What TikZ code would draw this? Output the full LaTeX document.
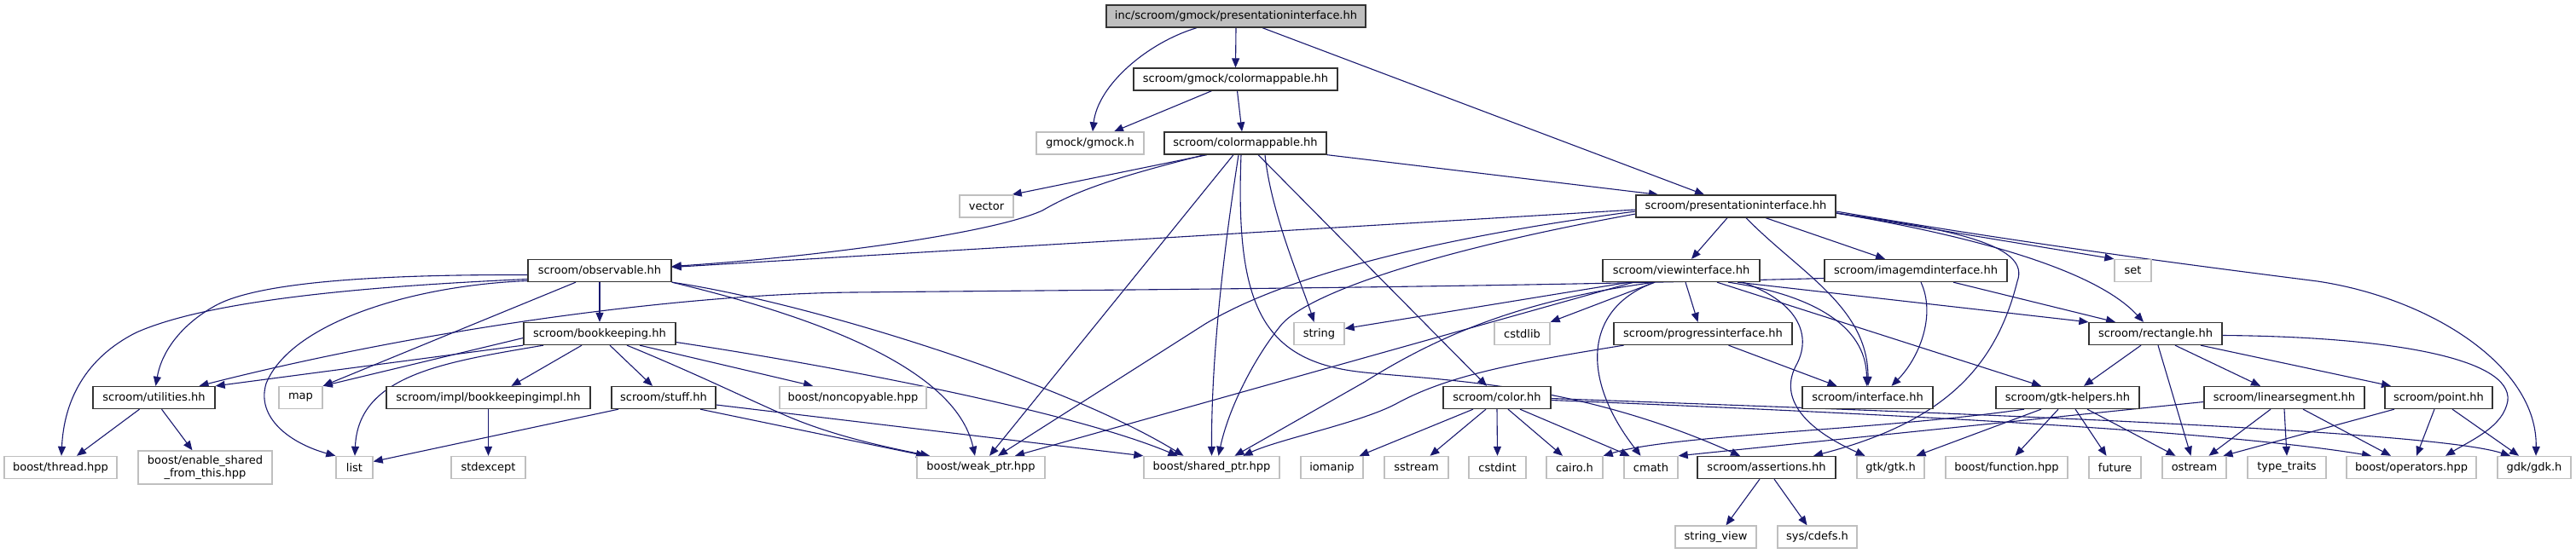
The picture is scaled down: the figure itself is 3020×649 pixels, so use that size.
\documentclass[tikz,border=0pt]{standalone}
\usepackage{fontspec}
\setmainfont{DejaVu Sans}
\usetikzlibrary{arrows.meta}
\definecolor{edgec}{HTML}{191970}
\definecolor{extc}{HTML}{BFBFBF}
\definecolor{docc}{HTML}{333333}
\pgfdeclarelayer{bg}
\pgfdeclarelayer{edges}
\pgfsetlayers{bg,edges,main}
\tikzset{
  base/.style={inner sep=0pt, minimum height=26pt, font=\fontsize{13}{15}\selectfont, anchor=center, fill=white},
  doc/.style={base, draw=docc, line width=1.3pt},
  ext/.style={base, draw=extc, line width=1.4pt},
  rootnode/.style={doc, fill=extc},
  e/.style={draw=edgec, line width=1.1pt, -{Triangle[length=11pt,width=9pt]}},
}
\begin{document}
\begin{tikzpicture}[x=1pt,y=-1pt]
\begin{pgfonlayer}{bg}
\fill[white] (0,0) rectangle (3020,649);
\end{pgfonlayer}
\useasboundingbox (0,0) rectangle (3020,649);
% row 0-3
\node[rootnode, minimum width=304pt] (root) at (1449,19) {inc/scroom/gmock/presentationinterface.hh};
\node[doc, minimum width=239pt] (gcm) at (1448.5,93) {scroom/gmock/colormappable.hh};
\node[ext, minimum width=126pt] (gmock) at (1278,168) {gmock/gmock.h};
\node[doc, minimum width=190pt] (cm) at (1460,168) {scroom/colormappable.hh};
\node[ext, minimum width=63pt] (vector) at (1156.5,242) {vector};
\node[doc, minimum width=234pt] (pi) at (2035,242) {scroom/presentationinterface.hh};
% row 4
\node[doc, minimum width=168pt] (obs) at (703,317.5) {scroom/observable.hh};
\node[doc, minimum width=184pt] (vi) at (1971,317.5) {scroom/viewinterface.hh};
\node[doc, minimum width=214pt] (imd) at (2246,317.5) {scroom/imagemdinterface.hh};
\node[ext, minimum width=43pt] (set) at (2500.5,317.5) {set};
% row 5
\node[doc, minimum width=178pt] (bk) at (703,391.5) {scroom/bookkeeping.hh};
\node[ext, minimum width=59pt] (string) at (1546.5,391.5) {string};
\node[ext, minimum width=65pt] (cstdlib) at (1784.5,391.5) {cstdlib};
\node[doc, minimum width=209pt] (prog) at (1996.5,391.5) {scroom/progressinterface.hh};
\node[doc, minimum width=156pt] (rect) at (2527,391.5) {scroom/rectangle.hh};
% row 6
\node[doc, minimum width=143pt] (util) at (180.5,466.5) {scroom/utilities.hh};
\node[ext, minimum width=51pt] (map) at (352.5,466.5) {map};
\node[doc, minimum width=239pt] (bki) at (572.5,466.5) {scroom/impl/bookkeepingimpl.hh};
\node[doc, minimum width=122pt] (stuff) at (778,466.5) {scroom/stuff.hh};
\node[ext, minimum width=172pt] (noncopy) at (1000,466.5) {boost/noncopyable.hpp};
\node[doc, minimum width=126pt] (color) at (1755,466.5) {scroom/color.hh};
\node[doc, minimum width=153pt] (iface) at (2189.5,466.5) {scroom/interface.hh};
\node[doc, minimum width=168pt] (gtkh) at (2424,466.5) {scroom/gtk-helpers.hh};
\node[doc, minimum width=188pt] (lseg) at (2678,466.5) {scroom/linearsegment.hh};
\node[doc, minimum width=126pt] (point) at (2859,466.5) {scroom/point.hh};
% row 7
\node[ext, minimum width=132pt] (thread) at (71,548.5) {boost/thread.hpp};
\node[ext, minimum width=157pt, minimum height=39pt, align=center] (enable) at (240.5,548.5) {boost/enable\_shared\\\_from\_this.hpp};
\node[ext, minimum width=43pt] (list) at (415.5,548.5) {list};
\node[ext, minimum width=87pt] (stdexcept) at (572.5,548.5) {stdexcept};
\node[ext, minimum width=150pt] (weak) at (1150,548.5) {boost/weak\_ptr.hpp};
\node[ext, minimum width=159pt] (shared) at (1420.5,548.5) {boost/shared\_ptr.hpp};
\node[ext, minimum width=73pt] (iomanip) at (1561.5,548.5) {iomanip};
\node[ext, minimum width=75pt] (sstream) at (1660.5,548.5) {sstream};
\node[ext, minimum width=67pt] (cstdint) at (1755.5,548.5) {cstdint};
\node[ext, minimum width=66pt] (cairo) at (1846,548.5) {cairo.h};
\node[ext, minimum width=63pt] (cmath) at (1935.5,548.5) {cmath};
\node[doc, minimum width=162pt] (assert) at (2071,548.5) {scroom/assertions.hh};
\node[ext, minimum width=79pt] (gtk) at (2216.5,548.5) {gtk/gtk.h};
\node[ext, minimum width=143pt] (func) at (2352.5,548.5) {boost/function.hpp};
\node[ext, minimum width=61pt] (future) at (2479.5,548.5) {future};
\node[ext, minimum width=75pt] (ostream) at (2572.5,548.5) {ostream};
\node[ext, minimum width=92pt] (ttraits) at (2681,548.5) {type\_traits};
\node[ext, minimum width=152pt] (ops) at (2827,548.5) {boost/operators.hpp};
\node[ext, minimum width=86pt] (gdk) at (2971,548.5) {gdk/gdk.h};
% row 8
\node[ext, minimum width=95pt] (sv) at (2011.5,630) {string\_view};
\node[ext, minimum width=93pt] (cdefs) at (2130.5,630) {sys/cdefs.h};

\begin{pgfonlayer}{edges}
% root
\draw[e] ([xshift=-46pt]root.south) .. controls (1345,50) and (1287,100) .. ([xshift=3pt]gmock.north);
\draw[e] (root.south) -- (gcm.north);
\draw[e] ([xshift=31pt]root.south) -- ([xshift=-37pt]pi.north);
% gmock colormappable
\draw[e] ([xshift=-28pt]gcm.south) -- ([xshift=28pt]gmock.north);
\draw[e] ([xshift=2pt]gcm.south) -- ([xshift=-4pt]cm.north);
% colormappable
\draw[e] ([xshift=-45pt]cm.south) -- ([xshift=-2pt]vector.north east);
\draw[e] ([xshift=-48pt]cm.south) .. controls (1300,210) and (1260,225) .. (1222,247) .. controls (1160,275) and (950,302) .. ([yshift=5pt]obs.east);
\draw[e] (cm.south east) -- ([xshift=-91pt]pi.north);
\draw[e] ([xshift=23pt]cm.south) .. controls (1490,250) and (1525,330) .. ([xshift=-6pt]string.north);
\draw[e] ([xshift=-14pt]cm.south) -- ([xshift=10pt]weak.north);
\draw[e] ([xshift=-8pt]cm.south) .. controls (1440,260) and (1420,400) .. (shared.north);
\draw[e] ([xshift=-5pt]cm.south) .. controls (1448,360) and (1480,425) .. (1600,437) .. controls (1700,447) and (1850,450) .. ([xshift=-31pt]assert.north);
\draw[e] ([xshift=15pt]cm.south) -- ([xshift=-12pt]color.north);
% presentationinterface
\draw[e] ([yshift=-4pt]pi.west) -- ([yshift=4pt]obs.east);
\draw[e] ([yshift=-6pt]pi.west) .. controls (1750,270) and (1530,310) .. (1413,380) -- ([xshift=20pt]weak.north);
\draw[e] ([yshift=-9pt]pi.west) .. controls (1700,290) and (1540,340) .. (1503,380) .. controls (1470,420) and (1440,480) .. ([xshift=8pt]shared.north);
\draw[e] ([xshift=-10pt]pi.south) -- ([xshift=12pt]vi.north);
\draw[e] ([xshift=12pt]pi.south) .. controls (2110,320) and (2190,360) .. ([xshift=0.5pt]iface.north);
\draw[e] ([xshift=35pt]pi.south) -- ([xshift=-36pt]imd.north);
\draw[e] ([yshift=-8pt]pi.east) -- (set.north west);
\draw[e] ([yshift=-8pt]pi.east) .. controls (2300,270) and (2380,290) .. (2365,330) .. controls (2340,430) and (2280,495) .. ([xshift=55pt]assert.north);
\draw[e] ([yshift=-8pt]pi.east) .. controls (2330,280) and (2460,320) .. ([xshift=-14pt]rect.north);
\draw[e] ([yshift=-6pt]pi.east) .. controls (2400,290) and (2600,315) .. (2717,330) .. controls (2850,350) and (2975,430) .. ([xshift=2pt]gdk.north);
% observable
\draw[e] (obs.south) -- (bk.north);
\draw[e] ([yshift=-5pt]obs.west) .. controls (450,322) and (300,330) .. (250,360) .. controls (215,380) and (190,410) .. ([xshift=2pt]util.north);
\draw[e] ([yshift=-10pt]obs.west) .. controls (450,335) and (250,350) .. (160,390) .. controls (100,420) and (75,470) .. ([xshift=1pt]thread.north);
\draw[e] ([yshift=-12pt]obs.west) .. controls (480,335) and (340,380) .. (312,450) .. controls (300,490) and (340,520) .. (list.north west);
\draw[e] ([xshift=-28pt]obs.south) -- (map.north east);
\draw[e] (obs.south east) .. controls (950,355) and (1250,450) .. ([xshift=-33pt]shared.north);
\draw[e] (obs.south east) .. controls (950,370) and (1120,430) .. ([xshift=-7pt]weak.north);
% bookkeeping
\draw[e] ([xshift=-21pt]bk.south) -- ([xshift=27pt]bki.north);
\draw[e] ([xshift=12pt]bk.south) -- ([xshift=-13pt]stuff.north);
\draw[e] ([xshift=47pt]bk.south) -- ([xshift=-47pt]noncopy.north);
\draw[e] (bk.south west) -- (util.north east);
\draw[e] ([yshift=-5pt]bk.west) -- (map.north east);
\draw[e] ([xshift=-66pt]bk.south) .. controls (520,425) and (420,440) .. ([xshift=0.5pt]list.north);
\draw[e] ([yshift=-10pt]bk.east) .. controls (950,425) and (1250,480) .. ([xshift=-40pt]shared.north);
\draw[e] ([xshift=32pt]bk.south) .. controls (820,440) and (880,470) .. (927,490) .. controls (980,512) and (1040,525) .. ([xshift=-60pt]weak.north);
% stuff, bookkeepingimpl, utilities
\draw[e] ([xshift=-53pt]stuff.south) -- ([yshift=7pt]list.east);
\draw[e] ([yshift=-8.5pt]stuff.east) -- (shared.north west);
\draw[e] ([xshift=43pt]stuff.south) -- ([xshift=-65pt]weak.north);
\draw[e] (bki.south) -- (stdexcept.north);
\draw[e] ([xshift=-17pt]util.south) -- ([xshift=19pt]thread.north);
\draw[e] ([xshift=9pt]util.south) -- ([xshift=-15pt]enable.north);
% viewinterface
\draw[e] ([xshift=-61pt]vi.south) -- ([yshift=6pt]string.east);
\draw[e] ([xshift=-56pt]vi.south) -- ([xshift=40pt]weak.north);
\draw[e] ([xshift=-31pt]vi.south) .. controls (1800,350) and (1700,385) .. (1600,448) -- ([xshift=27pt]shared.north);
\draw[e] ([xshift=-31pt]vi.south) -- (cstdlib.north east);
\draw[e] ([xshift=5pt]vi.south) -- ([xshift=-6pt]prog.north);
\draw[e] ([xshift=-31pt]vi.south) .. controls (1860,360) and (1850,440) .. ([xshift=-12pt]cmath.north);
\draw[e] ([xshift=66pt]vi.south) -- (rect.north west);
\draw[e] ([xshift=42pt]vi.south) -- ([xshift=-31pt]gtkh.north);
\draw[e] ([xshift=55pt]vi.south) .. controls (2120,345) and (2188,380) .. ([xshift=-1pt]iface.north);
\draw[e] ([xshift=72pt]vi.south) .. controls (2110,355) and (2125,395) .. (2105,430) .. controls (2085,470) and (2120,505) .. ([xshift=-30pt]gtk.north);
% progressinterface
\draw[e] ([xshift=-93pt]prog.south) .. controls (1780,425) and (1700,440) .. (1640,472) .. controls (1600,495) and (1500,515) .. ([xshift=37pt]shared.north);
\draw[e] ([xshift=30pt]prog.south) -- ([xshift=-36pt]iface.north);
% imagemdinterface
\draw[e] ([yshift=-9pt]imd.west) .. controls (1700,338) and (1300,340) .. (1000,343) .. controls (800,345) and (500,385) .. ([xshift=53pt]util.north);
\draw[e] ([xshift=6pt]imd.south) .. controls (2270,370) and (2250,420) .. ([xshift=28pt]iface.north);
\draw[e] ([xshift=44pt]imd.south) -- ([xshift=-47pt]rect.north);
% rectangle
\draw[e] ([xshift=-17pt]rect.south) -- ([xshift=19pt]gtkh.north);
\draw[e] ([xshift=3pt]rect.south) -- ([xshift=-4pt]ostream.north);
\draw[e] ([xshift=23pt]rect.south) -- ([xshift=-28pt]lseg.north);
\draw[e] ([xshift=53pt]rect.south) -- ([xshift=-56pt]point.north);
\draw[e] ([yshift=-2pt]rect.east) .. controls (2800,395) and (2945,420) .. (2940,470) .. controls (2935,500) and (2900,515) .. ([xshift=40pt]ops.north);
% gtk-helpers
\draw[e] ([xshift=-51pt]gtkh.south) .. controls (2200,505) and (1960,510) .. (cairo.north east);
\draw[e] ([xshift=-31pt]gtkh.south) -- ([xshift=30pt]gtk.north);
\draw[e] ([xshift=-11pt]gtkh.south) -- ([xshift=10pt]func.north);
\draw[e] ([xshift=9pt]gtkh.south) -- ([xshift=-10pt]future.north);
\draw[e] ([xshift=23pt]gtkh.south) -- ([xshift=-22pt]ostream.north);
% linearsegment
\draw[e] ([yshift=-5pt]lseg.west) -- (cmath.north east);
\draw[e] ([xshift=-16pt]lseg.south) -- ([xshift=17pt]ostream.north);
\draw[e] (lseg.south) -- (ttraits.north);
\draw[e] ([xshift=22pt]lseg.south) -- ([xshift=-24pt]ops.north);
% point
\draw[e] ([xshift=-52pt]point.south) -- ([xshift=34pt]ostream.north);
\draw[e] ([xshift=-5pt]point.south) -- ([xshift=6pt]ops.north);
\draw[e] ([xshift=16pt]point.south) -- ([xshift=-18pt]gdk.north);
% color
\draw[e] ([xshift=-28pt]color.south) -- ([xshift=-5pt]iomanip.north east);
\draw[e] ([xshift=-13pt]color.south) -- ([xshift=16pt]sstream.north);
\draw[e] (color.south) -- (cstdint.north);
\draw[e] ([xshift=13pt]color.south) -- ([xshift=-14pt]cairo.north);
\draw[e] ([xshift=27pt]color.south) -- ([xshift=-25pt]cmath.north);
\draw[e] ([yshift=-3pt]color.east) .. controls (2200,485) and (2600,505) .. ([xshift=-47pt]ops.north);
\draw[e] ([yshift=-1pt]color.east) .. controls (2300,485) and (2850,505) .. ([xshift=-28pt]gdk.north);
% assertions
\draw[e] ([xshift=-8pt]assert.south) -- ([xshift=12pt]sv.north);
\draw[e] ([xshift=9pt]assert.south) -- ([xshift=-12pt]cdefs.north);
\end{pgfonlayer}
\end{tikzpicture}
\end{document}
